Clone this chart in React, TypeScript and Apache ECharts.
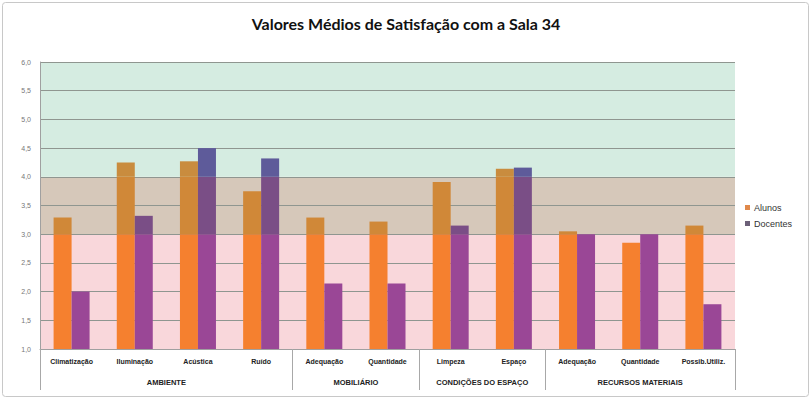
import React, { useEffect, useRef } from "react";
import * as echarts from "echarts";

const title = "Valores Médios de Satisfação com a Sala 34";
const categories = [
  "Climatização", "Iluminação", "Acústica", "Ruído",
  "Adequação", "Quantidade",
  "Limpeza", "Espaço",
  "Adequação", "Quantidade", "Possib.Utiliz.",
];
const groups = ["AMBIENTE", "MOBILIÁRIO", "CONDIÇÕES DO ESPAÇO", "RECURSOS MATERIAIS"];
const groupSizes = [4, 2, 2, 3];
const alunos = [3.29, 4.25, 4.27, 3.75, 3.29, 3.22, 3.91, 4.14, 3.05, 2.85, 3.15];
const docentes = [2.0, 3.32, 4.5, 4.32, 2.14, 2.14, 3.15, 4.16, 3.0, 3.0, 1.78];
const bandBreaks = [1, 3, 4, 6];
const yTicks = [1, 1.5, 2, 2.5, 3, 3.5, 4, 4.5, 5, 5.5, 6];

const bandColors = ["#f9d7db", "#d6c8ba", "#d5ece1"];
const alunosColors = ["#f5802f", "#d08838", "#c98c3e"];
const docentesColors = ["#9a4796", "#7a4e86", "#5e5b9a"];

function segments(values: number[]) {
  return bandBreaks.slice(0, 3).map((lo, i) => {
    const hi = bandBreaks[i + 1];
    return values.map((v) => {
      const top = Math.min(v, hi);
      const bottom = i === 0 ? 0 : lo;
      return Math.max(0, top - bottom);
    });
  });
}

export default function App() {
  const ref = useRef<HTMLDivElement>(null);
  useEffect(() => {
    if (!ref.current) return;
    const chart = echarts.init(ref.current, undefined, { renderer: "svg" });
    const bounds: number[] = [0];
    groupSizes.forEach((s) => bounds.push(bounds[bounds.length - 1] + s));
    const centers = groupSizes.map((s, i) => bounds[i] + s / 2);

    const aSeg = segments(alunos);
    const dSeg = segments(docentes);
    const barSeries: any[] = [];
    aSeg.forEach((d, i) => {
      barSeries.push({
        name: i === 0 ? "Alunos" : "Alunos" + " ".repeat(i),
        type: "bar", stack: "a", data: d, barWidth: 18, barGap: "0%", z: 3,
        itemStyle: { color: alunosColors[i] },
      });
    });
    dSeg.forEach((d, i) => {
      barSeries.push({
        name: i === 0 ? "Docentes" : "Docentes" + " ".repeat(i),
        type: "bar", stack: "d", data: d, barWidth: 18, barGap: "0%", z: 3,
        itemStyle: { color: docentesColors[i] },
      });
    });

    chart.setOption({
      animation: false,
      backgroundColor: "#ffffff",
      title: {
        text: title, left: "center", top: 10,
        textStyle: { fontFamily: "Lato", fontWeight: "bold", fontSize: 16, color: "#111" },
      },
      legend: {
        orient: "vertical", left: 745, top: 203, itemWidth: 5, itemHeight: 5, itemGap: 7, padding: 0,
        icon: "rect",
        textStyle: { fontFamily: "Liberation Sans", fontSize: 9, color: "#333", padding: [0, 0, 0, -1] },
        data: [
          { name: "Alunos", itemStyle: { color: "#e0894a" } },
          { name: "Docentes", itemStyle: { color: "#6c6078" } },
        ],
      },
      graphic: [
        {
          type: "rect", shape: { x: 2.5, y: 2.5, width: 806, height: 394, r: 3 },
          style: { fill: "transparent", stroke: "#c8c8c8", lineWidth: 1 }, z: 0,
        },
      ],
      grid: { left: 40, right: 77, top: 62, bottom: 54 },
      xAxis: [
        {
          type: "category", data: categories,
          axisLine: { show: true, lineStyle: { color: "#a0a0a0" } },
          axisTick: { show: false },
          axisLabel: {
            interval: 0, margin: 9, fontFamily: "Liberation Sans", fontWeight: "bold",
            fontSize: 7, color: "#222",
          },
          z: 4,
        },
        {
          type: "value", min: 0, max: 11, position: "bottom",
          axisLine: { show: false },
          splitLine: { show: false },
          axisTick: {
            show: true, customValues: bounds, length: 41, inside: false,
            lineStyle: { color: "#a8a8a8" },
          },
          axisLabel: {
            customValues: centers, margin: 29, fontFamily: "Liberation Sans", fontWeight: "bold",
            fontSize: 7.5, color: "#222",
            formatter: (v: number) => {
              const idx = centers.findIndex((c) => Math.abs(c - v) < 1e-6);
              return idx >= 0 ? groups[idx] : "";
            },
          },
          z: 4,
        },
      ],
      yAxis: {
        type: "value", min: 1, max: 6, interval: 0.5,
        axisLine: { show: true, lineStyle: { color: "#a0a0a0" } },
        axisTick: { show: false },
        axisLabel: {
          margin: 9, fontFamily: "Liberation Sans", fontSize: 7, color: "#777",
          formatter: (v: number) => (yTicks.includes(v) ? v.toFixed(1).replace(".", ",") : ""),
        },
        splitLine: { show: true, lineStyle: { color: "#8f9690", width: 1 } },
        z: 2,
      },
      series: [
        {
          name: "bands", type: "line", data: categories.map(() => null), symbol: "none", z: 1,
          silent: true,
          markArea: {
            silent: true,
            data: bandColors.map((c, i) => [
              { yAxis: bandBreaks[i], itemStyle: { color: c } },
              { yAxis: bandBreaks[i + 1] },
            ]),
          },
        },
        ...barSeries,
      ],
    });
    return () => chart.dispose();
  }, []);
  return (
    <div
      ref={ref}
      style={{ position: "absolute", left: 0, top: 0, width: 812, height: 403 }}
    />
  );
}
